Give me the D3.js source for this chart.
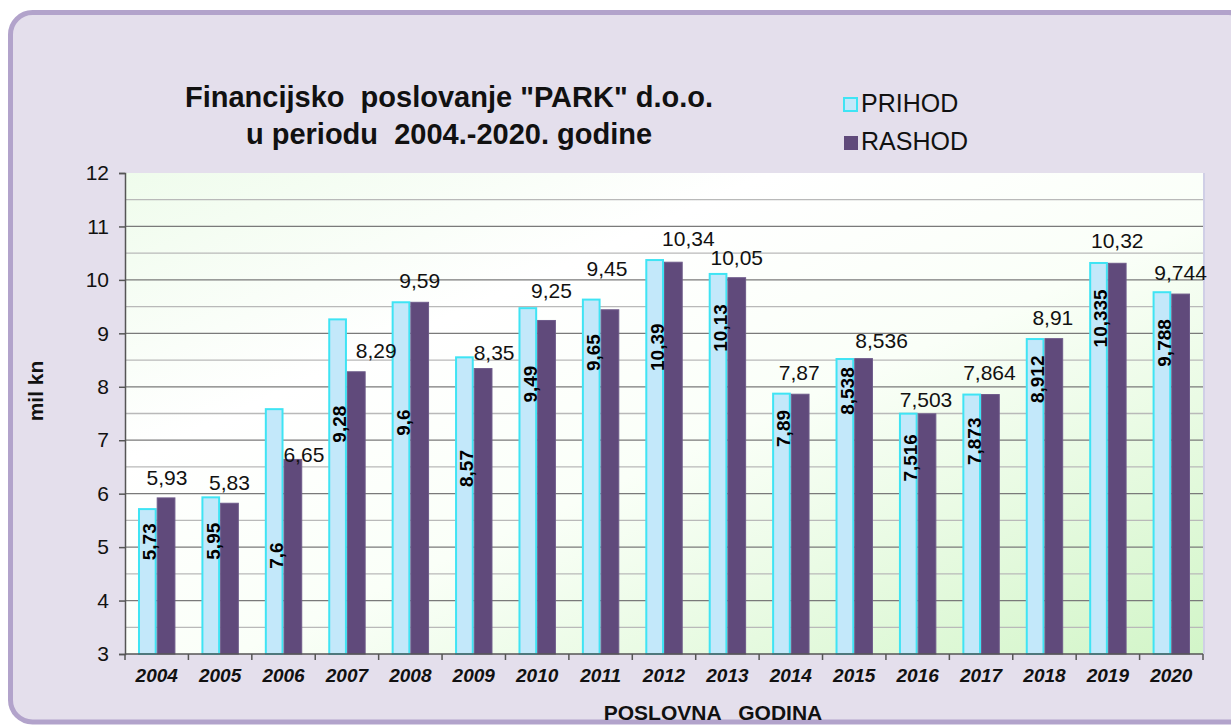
<!DOCTYPE html>
<html><head><meta charset="utf-8">
<script src="https://cdn.jsdelivr.net/npm/d3@7"></script>
<style>
html,body{margin:0;padding:0;background:#fff;overflow:hidden}
text{font-family:"Liberation Sans",Arial,Helvetica,sans-serif;white-space:pre}
</style>
</head><body>
<svg id="chart" width="1231" height="725"></svg>
<script>
// ---- data ----
const years = ["2004","2005","2006","2007","2008","2009","2010","2011","2012","2013","2014","2015","2016","2017","2018","2019","2020"];
const prihod = [5.73,5.95,7.6,9.28,9.6,8.57,9.49,9.65,10.39,10.13,7.89,8.538,7.516,7.873,8.912,10.335,9.788];
const rashod = [5.93,5.83,6.65,8.29,9.59,8.35,9.25,9.45,10.34,10.05,7.87,8.536,7.503,7.864,8.91,10.32,9.744];
const seriesNames = ["PRIHOD","RASHOD"];
const yTicks = [3,4,5,6,7,8,9,10,11,12];
const yMinorGrid = [3.5,4.5,5.5,6.5,7.5,8.5,9.5,10.5,11.5];
const yMajorGrid = [4,5,6,7,8,9,10,11];
// label anchors (in mil kn) as placed in the original chart
const prihodLabelAt = [5.10,5.11,4.84,7.30,7.33,6.47,8.05,8.64,8.74,9.10,7.22,7.92,6.67,6.98,8.14,9.28,8.82];
const rashodLabelAt = [6.16,6.07,6.59,8.53,9.84,8.50,9.67,10.08,10.64,10.27,8.12,8.72,7.62,8.12,9.15,10.59,9.99];
const rashodLabelShift = [1,0,11,20,0,11,5,-3,15,0,-1,18,-1,-1,-1,0,0];
const titleLines = ["Financijsko  poslovanje \"PARK\" d.o.o.", "u periodu  2004.-2020. godine"];
const yTitle = "mil kn";
const xTitle = "POSLOVNA   GODINA";

// ---- layout ----
const svg = d3.select("#chart");
const P = {left:125, right:1203, top:173, bottom:654};
const colors = {PRIHOD:"#c3e8fa", RASHOD:"#604a7b"};
const strokes = {PRIHOD:"#3fe4f4", RASHOD:"#6e5b8a"};
const fmt = v => String(v).replace(".", ",");

// panel
svg.append("rect").attr("x",10.5).attr("y",12.5).attr("width",1240).attr("height",709.5)
  .attr("rx",22).attr("ry",22).attr("fill","#e4dfec").attr("stroke","#b2a3cb").attr("stroke-width",5);

// gradient for plot area
const defs = svg.append("defs");
const g1 = defs.append("linearGradient").attr("id","plotbg").attr("x1",0).attr("y1",0).attr("x2",1).attr("y2",1);
[[0,"#effcec"],[0.3,"#ffffff"],[0.55,"#fafff8"],[1,"#d2f5c8"]].forEach(s=>g1.append("stop").attr("offset",s[0]).attr("stop-color",s[1]));

const x = d3.scaleBand().domain(years).range([P.left,P.right]).paddingInner(0.41).paddingOuter(0.205);
const xs = d3.scaleBand().domain(seriesNames).range([0,x.bandwidth()]);
const y = d3.scaleLinear().domain([3,12]).range([P.bottom,P.top]);

svg.append("rect").attr("x",P.left).attr("y",P.top).attr("width",P.right-P.left).attr("height",P.bottom-P.top)
  .attr("fill","url(#plotbg)");
svg.append("line").attr("x1",P.right+1).attr("x2",P.right+1).attr("y1",P.top).attr("y2",P.bottom)
  .attr("stroke","#d0cfe6").attr("stroke-width",2);

// gridlines
svg.append("g").selectAll("line").data(yMinorGrid).join("line")
  .attr("x1",P.left).attr("x2",P.right).attr("y1",d=>y(d)).attr("y2",d=>y(d))
  .attr("stroke","#b9b9b9").attr("stroke-width",1.3);
svg.append("g").selectAll("line").data(yMajorGrid).join("line")
  .attr("x1",P.left).attr("x2",P.right).attr("y1",d=>y(d)).attr("y2",d=>y(d))
  .attr("stroke","#7a7a7a").attr("stroke-width",1.3);

// bars
const rows = years.map((yr,i)=>({year:yr, i, PRIHOD:prihod[i], RASHOD:rashod[i]}));
const gBars = svg.append("g");
rows.forEach(r=>{
  seriesNames.forEach(s=>{
    const sw = s==="PRIHOD"?2:1;
    gBars.append("rect")
      .attr("x", x(r.year)+xs(s)+sw/2)
      .attr("y", y(r[s])+sw/2)
      .attr("width", xs.bandwidth()-sw)
      .attr("height", y(3)-y(r[s])-sw/2)
      .attr("fill", colors[s]).attr("stroke", strokes[s]).attr("stroke-width", sw);
  });
});

// axes
const yAxis = d3.axisLeft(y).tickValues(yTicks).tickSize(6).tickPadding(10).tickFormat(d=>d);
const ya = svg.append("g").attr("transform",`translate(${P.left},0)`).call(yAxis);
ya.select(".domain").attr("stroke","#555").attr("stroke-width",1.5);
ya.selectAll(".tick line").attr("stroke","#555").attr("stroke-width",1.5);
ya.selectAll(".tick text").attr("font-size",21).attr("fill","#111").attr("font-family","Liberation Sans, Arial, sans-serif");

svg.append("line").attr("x1",P.left).attr("x2",P.right).attr("y1",P.bottom).attr("y2",P.bottom)
  .attr("stroke","#555").attr("stroke-width",1.5);
const bounds = years.map(yr=>x(yr)-x.step()*x.paddingInner()/2).concat([P.right]);
bounds[0] = P.left;
svg.append("g").selectAll("line").data(bounds).join("line")
  .attr("x1",d=>d).attr("x2",d=>d).attr("y1",P.bottom).attr("y2",P.bottom+6)
  .attr("stroke","#555").attr("stroke-width",1.5);
svg.append("g").selectAll("text").data(years).join("text")
  .attr("x",d=>x(d)+x.bandwidth()/2).attr("y",682)
  .attr("text-anchor","middle").attr("font-size",19).attr("font-weight","bold").attr("font-style","italic")
  .attr("fill","#111").text(d=>d);

// data labels
const gl = svg.append("g");
rows.forEach(r=>{
  const px = x(r.year)+xs("PRIHOD")+xs.bandwidth()-0.5;
  gl.append("text").attr("transform",`translate(${px},${y(prihodLabelAt[r.i])}) rotate(-90)`)
    .attr("text-anchor","middle").attr("font-size",19).attr("font-weight","bold").attr("fill","#000")
    .text(fmt(r.PRIHOD));
  const rx = x(r.year)+xs("RASHOD")+xs.bandwidth()/2+rashodLabelShift[r.i];
  gl.append("text").attr("x",rx).attr("y",y(rashodLabelAt[r.i]))
    .attr("text-anchor","middle").attr("font-size",21).attr("fill","#111")
    .text(fmt(r.RASHOD));
});

// titles
svg.append("text").attr("x",449).attr("y",107).attr("text-anchor","middle")
  .attr("font-size",29).attr("font-weight","bold").attr("fill","#111").text(titleLines[0]);
svg.append("text").attr("x",449).attr("y",144).attr("text-anchor","middle")
  .attr("font-size",29).attr("font-weight","bold").attr("fill","#111").text(titleLines[1]);
svg.append("text").attr("transform","translate(43,391) rotate(-90)").attr("text-anchor","middle")
  .attr("font-size",21).attr("font-weight","bold").attr("fill","#111").text(yTitle);
svg.append("text").attr("x",713).attr("y",720).attr("text-anchor","middle")
  .attr("font-size",21).attr("font-weight","bold").attr("fill","#111").text(xTitle);

// legend
const lg = svg.append("g");
seriesNames.forEach((s,i)=>{
  const ly = i===0?97:136;
  lg.append("rect").attr("x",844).attr("y",ly+ (i===0?1:0)).attr("width",i===0?13:14).attr("height",i===0?13:14)
    .attr("fill",colors[s]).attr("stroke",i===0?strokes[s]:"none").attr("stroke-width",2);
  lg.append("text").attr("x",861).attr("y",i===0?112:150).attr("font-size",25).attr("fill","#111").text(s);
});
</script>
</body></html>
